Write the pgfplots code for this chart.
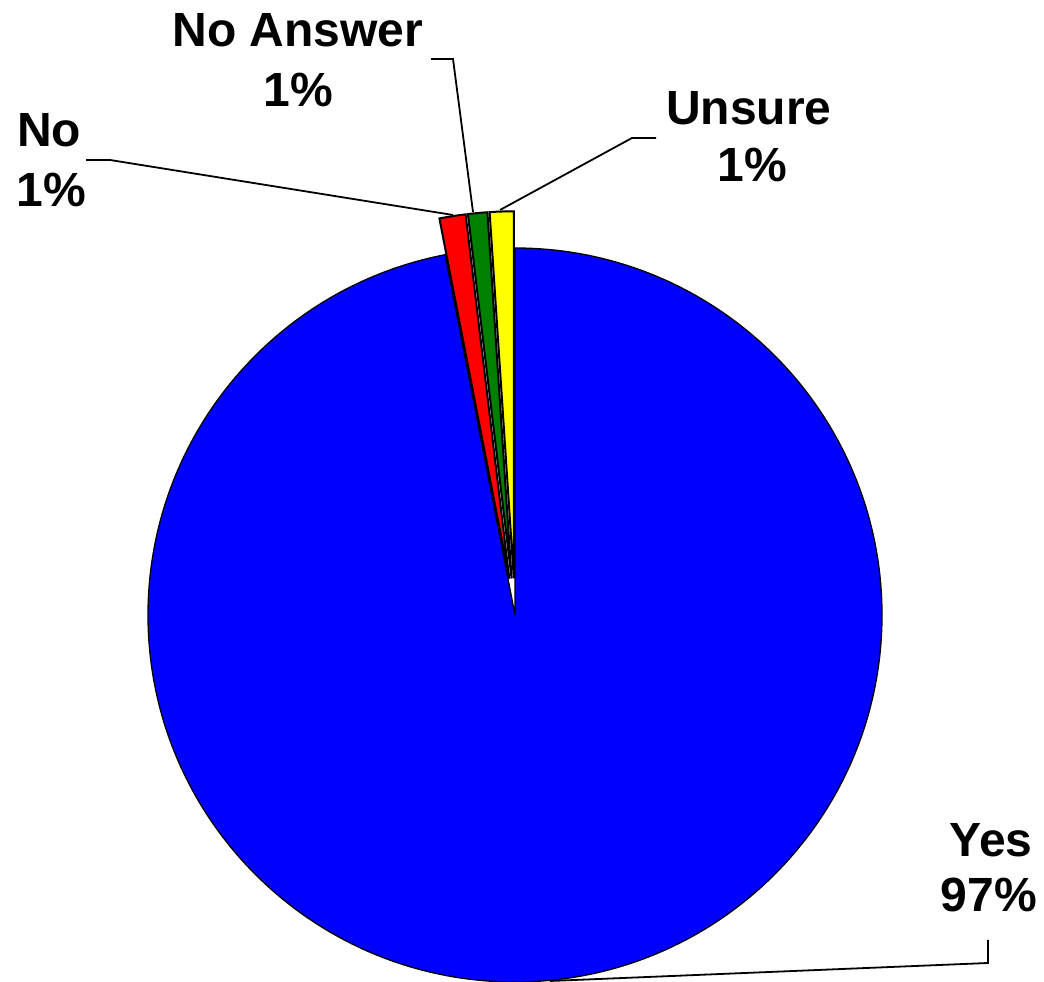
\documentclass[border=0pt]{standalone}
\usepackage{fontspec}
\setmainfont{Liberation Sans}
\usepackage{pgfplots}
\usepackage{pgfplotstable}
\pgfplotsset{compat=1.18}

\definecolor{cYes}{RGB}{0,0,255}
\definecolor{cNo}{RGB}{255,0,0}
\definecolor{cNA}{RGB}{0,128,0}
\definecolor{cUn}{RGB}{255,255,0}

% share of answers, in per cent
\pgfplotstableread[col sep=comma]{
label,value
Yes,96.95
No,1.15
No Answer,0.85
Unsure,1.05
}\piedata

\begin{document}
\begin{tikzpicture}
% slice angles, clockwise from 12 o'clock as in the original
\pgfplotstablegetelem{0}{value}\of\piedata \let\vYes\pgfplotsretval
\pgfplotstablegetelem{1}{value}\of\piedata \let\vNo\pgfplotsretval
\pgfplotstablegetelem{2}{value}\of\piedata \let\vNA\pgfplotsretval
\pgfplotstablegetelem{3}{value}\of\piedata \let\vUn\pgfplotsretval
\pgfmathsetmacro\aA{90}
\pgfmathsetmacro\aB{\aA-3.6*\vYes}
\pgfmathsetmacro\aC{\aB-3.6*\vNo}
\pgfmathsetmacro\aD{\aC-3.6*\vNA}
\pgfmathsetmacro\aE{\aD-3.6*\vUn}
\def\R{367}   % radius
\def\D{36.7}  % explode distance
\pgfmathsetmacro\mNo{(\aB+\aC)/2}
\pgfmathsetmacro\mNA{(\aC+\aD)/2}
\pgfmathsetmacro\mUn{(\aD+\aE)/2}
\pgfmathsetmacro\xNo{515+\D*cos(\mNo)}\pgfmathsetmacro\yNo{367+\D*sin(\mNo)}
\pgfmathsetmacro\xNA{515+\D*cos(\mNA)}\pgfmathsetmacro\yNA{367+\D*sin(\mNA)}
\pgfmathsetmacro\xUn{515+\D*cos(\mUn)}\pgfmathsetmacro\yUn{367+\D*sin(\mUn)}
\begin{axis}[
  x=1pt, y=1pt,
  xmin=0, xmax=1044, ymin=0, ymax=982,
  hide axis, clip=false,
]
\coordinate (SW) at (axis cs:0,0);
\coordinate (NE) at (axis cs:1044,982);
% slices
\filldraw[fill=cYes, draw=black, line width=1.3pt, line join=miter]
  (axis cs:515,367) -- ++(\aA:\R pt) arc[start angle=\aA, end angle=\aB, radius=\R pt] -- cycle;
\filldraw[fill=cNo, draw=black, line width=2pt, line join=miter]
  (axis cs:\xNo,\yNo) -- ++(\aB:\R pt) arc[start angle=\aB, end angle=\aC, radius=\R pt] -- cycle;
\filldraw[fill=cNA, draw=black, line width=2pt, line join=miter]
  (axis cs:\xNA,\yNA) -- ++(\aC:\R pt) arc[start angle=\aC, end angle=\aD, radius=\R pt] -- cycle;
\filldraw[fill=cUn, draw=black, line width=2pt, line join=miter]
  (axis cs:\xUn,\yUn) -- ++(\aD:\R pt) arc[start angle=\aD, end angle=\aE, radius=\R pt] -- cycle;
% leader lines
\draw[line width=1.8pt] (axis cs:86,822) -- (axis cs:110,822) -- (axis cs:453,767);
\draw[line width=1.8pt] (axis cs:431,923) -- (axis cs:453,923) -- (axis cs:473,770);
\draw[line width=1.8pt] (axis cs:656,844) -- (axis cs:632,844) -- (axis cs:500,772);
\draw[line width=1.8pt] (axis cs:988,42) -- (axis cs:988,19) -- (axis cs:550,1);
% labels
\begin{scope}[every node/.style={anchor=base, inner sep=0pt, font=\fontsize{48}{57}\selectfont\bfseries}]
\node at (axis cs:298,935) {No Answer};
\node at (axis cs:298,875) {1\%};
\node at (axis cs:749,857) {Unsure};
\node at (axis cs:752,800) {1\%};
\node at (axis cs:49,835) {No};
\node at (axis cs:51,775) {1\%};
\node at (axis cs:991,125) {Yes};
\node at (axis cs:989,70) {97\%};
\end{scope}
\end{axis}
\pgfresetboundingbox
\path[use as bounding box] (SW) rectangle (NE);
\end{tikzpicture}
\end{document}
